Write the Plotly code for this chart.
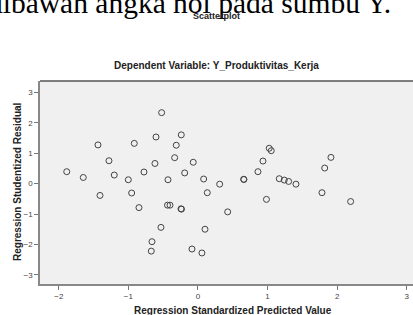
import plotly.graph_objects as go

# Data (standardized predicted value, studentized residual)
pred_value = [-1.886, -1.648, -1.437, -1.408, -1.279, -1.203, -1.001, -0.953, -0.915, -0.848,
              -0.776, -0.671, -0.661, -0.618, -0.603, -0.522, -0.532, -0.438, -0.402, -0.431,
              -0.335, -0.312, -0.240, -0.244, -0.237, -0.191, -0.086, -0.068, 0.057, 0.082,
              0.101, 0.134, 0.312, 0.427, 0.657, 0.660, 0.862, 0.934, 0.984, 1.024,
              1.053, 1.168, 1.240, 1.303, 1.408, 1.782, 1.821, 1.911, 2.194]
stud_resid = [0.39, 0.20, 1.27, -0.39, 0.75, 0.28, 0.125, -0.31, 1.32, -0.79,
              0.38, -2.22, -1.91, 0.66, 1.53, 2.33, -1.44, -0.71, -0.71, 0.125,
              0.85, 1.26, 1.60, -0.83, -0.84, 0.35, -2.15, 0.70, -2.28, 0.15,
              -1.50, -0.30, -0.02, -0.93, 0.14, 0.135, 0.39, 0.74, -0.52, 1.16,
              1.08, 0.16, 0.115, 0.07, -0.02, -0.30, 0.51, 0.86, -0.59]
x_ticks = [-2, -1, 0, 1, 2, 3]
y_ticks = [-3, -2, -1, 0, 1, 2, 3]

doc_text = "dibawah angka nol pada sumbu Y."
super_title = "Scatterplot"
chart_title = "Dependent Variable: Y_Produktivitas_Kerja"
x_title = "Regression Standardized Predicted Value"
y_title = "Regression Studentized Residual"

FONT = "Liberation Sans"

fig = go.Figure()
fig.add_trace(go.Scatter(
    x=pred_value, y=stud_resid, mode="markers",
    marker=dict(symbol="circle-open", size=6, color="#444444", line=dict(width=1, color="#444444")),
    hoverinfo="skip", showlegend=False,
))

fig.update_layout(
    width=413, height=315,
    margin=dict(l=40, r=0, t=81, b=31),
    paper_bgcolor="white", plot_bgcolor="#f0f0f0",
    font=dict(family=FONT, color="#333333"),
    xaxis=dict(range=[-2.27, 3.09], tickvals=x_ticks, ticks="outside", ticklen=4,
               tickcolor="#777777", tickfont=dict(size=8, color="#444444"),
               showgrid=False, zeroline=False, showline=True, linecolor="#888888",
               linewidth=1.5, fixedrange=True),
    yaxis=dict(range=[-3.30, 3.37], tickvals=y_ticks, ticks="outside", ticklen=4,
               tickcolor="#777777", tickfont=dict(size=8, color="#444444"),
               showgrid=False, zeroline=False, showline=True, linecolor="#888888",
               linewidth=1.5, fixedrange=True),
    shapes=[dict(type="line", xref="paper", yref="paper", x0=0, x1=1, y0=1, y1=1,
                 line=dict(color="#555555", width=1.5))],
    annotations=[
        dict(text=doc_text, xref="paper", yref="paper", x=(-14 - 40) / 373, y=(284 - 3) / 203,
             xanchor="left", yanchor="middle", showarrow=False,
             font=dict(family="Liberation Serif", size=29.5, color="black")),
        dict(text="<b>" + super_title + "</b>", xref="paper", yref="paper",
             x=(216 - 40) / 373, y=(284 - 16) / 203, xanchor="center", yanchor="middle",
             showarrow=False, font=dict(family=FONT, size=9, color="#222222")),
        dict(text="<b>" + chart_title + "</b>", xref="paper", yref="paper",
             x=(216 - 40) / 373, y=(284 - 65) / 203, xanchor="center", yanchor="middle",
             showarrow=False, font=dict(family=FONT, size=10, color="#222222")),
        dict(text="<b>" + x_title + "</b>", xref="paper", yref="paper",
             x=(233 - 40) / 373, y=(284 - 310) / 203, xanchor="center", yanchor="middle",
             showarrow=False, font=dict(family=FONT, size=10, color="#222222")),
        dict(text="<b>" + y_title + "</b>", xref="paper", yref="paper",
             x=(17 - 40) / 373, y=(284 - 182) / 203, xanchor="center", yanchor="middle",
             textangle=-90, showarrow=False, font=dict(family=FONT, size=10, color="#222222")),
    ],
)

fig.write_html("out.html", config={"displayModeBar": False},
               post_script="document.body.style.margin='0px';")
